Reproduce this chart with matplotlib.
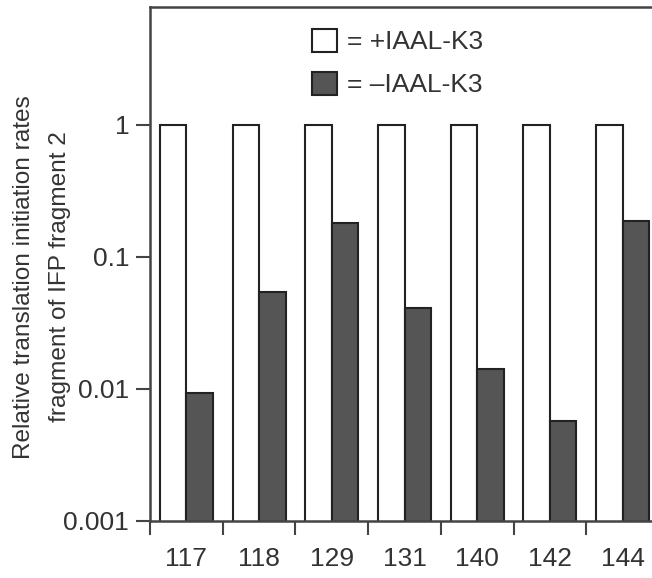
import matplotlib
matplotlib.use("Agg")
import matplotlib.pyplot as plt
from matplotlib.patches import Patch
from matplotlib.ticker import FixedLocator, FixedFormatter
import numpy as np

plt.rcParams['font.family'] = ['Liberation Sans', 'DejaVu Sans']

categories = ["117", "118", "129", "131", "140", "142", "144"]
with_iaal = [1, 1, 1, 1, 1, 1, 1]
without_iaal = [0.0093, 0.054, 0.182, 0.041, 0.0142, 0.00575, 0.188]
ytick_vals = [0.001, 0.01, 0.1, 1]
ytick_labels = ["0.001", "0.01", "0.1", "1"]

W, H = 652, 578
fig = plt.figure(figsize=(W / 100, H / 100), dpi=100)
left, right, top, bottom = 150, 659, 7, 521
ax = fig.add_axes([left / W, 1 - bottom / H, (right - left) / W, (bottom - top) / H])

txt = '#333333'
edge = '#222222'
x = np.arange(len(categories))
bw = 0.364
ax.bar(x - bw / 2, with_iaal, width=bw, color='white', edgecolor=edge, linewidth=1.5, bottom=0)
ax.bar(x + bw / 2, without_iaal, width=bw, color='#555555', edgecolor=edge, linewidth=1.5, bottom=0)

ax.set_yscale('log')
ax.set_ylim(0.001, 7.8)
ax.set_xlim(-0.5, len(categories) - 0.5)

ax.yaxis.set_major_locator(FixedLocator(ytick_vals))
ax.yaxis.set_major_formatter(FixedFormatter(ytick_labels))
ax.yaxis.set_minor_locator(FixedLocator([]))

ax.xaxis.set_major_locator(FixedLocator(np.arange(len(categories) + 1) - 0.5))
ax.xaxis.set_major_formatter(FixedFormatter([""] * (len(categories) + 1)))
ax.xaxis.set_minor_locator(FixedLocator(x))
ax.xaxis.set_minor_formatter(FixedFormatter(categories))

ax.tick_params(axis='y', which='major', length=10, width=1.5, color='#444444',
               labelsize=19, labelcolor=txt, pad=5)
ax.tick_params(axis='x', which='major', length=10, width=1.5, color='#444444')
ax.tick_params(axis='x', which='minor', length=0, labelsize=19, labelcolor=txt, pad=19)

for s in ax.spines.values():
    s.set_color('#444444')
    s.set_linewidth(1.8)

fig.text(24 / W, 1 - 277 / H, "Relative translation initiation rates", rotation=90,
         ha='center', va='center', fontsize=17.6, color=txt)
fig.text(60 / W, 1 - 277 / H, "fragment of IFP fragment 2", rotation=90,
         ha='center', va='center', fontsize=17.6, color=txt)

handles = [Patch(facecolor='white', edgecolor=edge, linewidth=1.5),
           Patch(facecolor='#555555', edgecolor=edge, linewidth=1.5)]
leg = fig.legend(handles, ["= +IAAL-K3", "= \u2013IAAL-K3"], loc='upper left',
                 bbox_to_anchor=(312 / W, 1 - 29 / H), bbox_transform=fig.transFigure,
                 frameon=False, fontsize=19, borderpad=0, borderaxespad=0,
                 handlelength=0.95, handleheight=0.95, handletextpad=0.38,
                 labelspacing=0.66, labelcolor=txt)

fig.savefig("out.png", dpi=100)
